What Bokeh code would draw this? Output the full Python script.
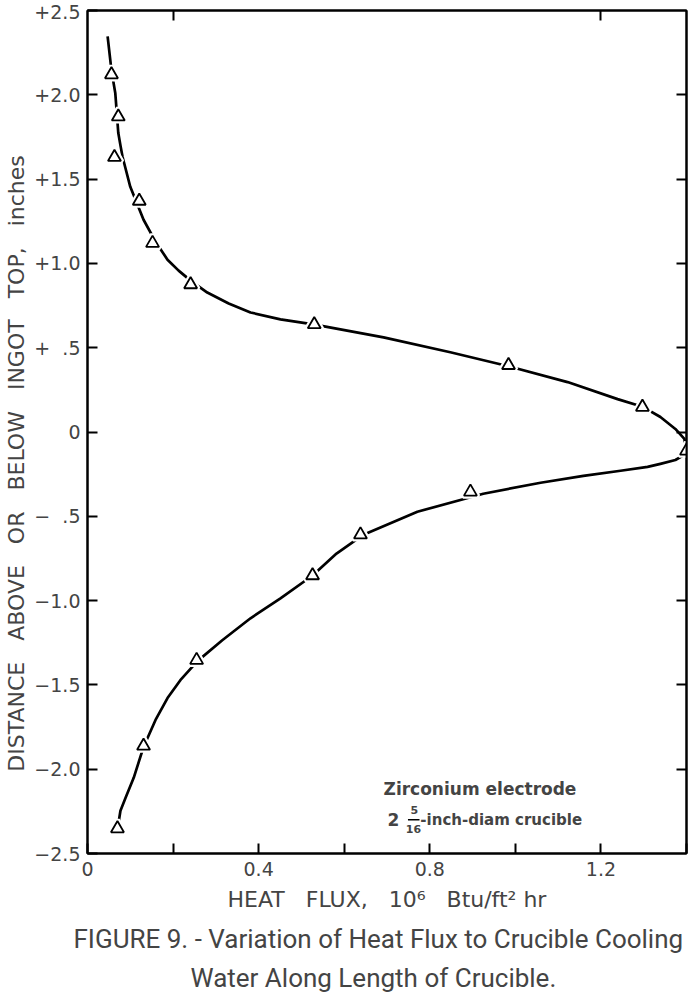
from bokeh.plotting import figure
from bokeh.models import Range1d, FixedTicker, LinearAxis, Title, Label
from bokeh.embed import file_html
from bokeh.resources import INLINE

# Measured data points (triangles): heat flux (10^6 Btu/ft2 hr) vs distance (inches)
heat_flux = [0.056, 0.072, 0.063, 0.121, 0.152, 0.241, 0.530, 0.984, 1.297, 1.400,
             0.895, 0.638, 0.526, 0.255, 0.131, 0.070]
distance = [2.12, 1.87, 1.63, 1.37, 1.12, 0.875, 0.638, 0.396, 0.148, -0.112,
            -0.355, -0.609, -0.851, -1.353, -1.862, -2.352]

# Faired curve (top end -> right tip -> bottom end)
curve_flux = [0.047, 0.056, 0.065, 0.072, 0.077, 0.082, 0.100, 0.131, 0.159, 0.187,
              0.213, 0.241, 0.280, 0.330, 0.381, 0.451, 0.528, 0.692, 0.848, 0.984,
              1.122, 1.239, 1.299, 1.339, 1.374, 1.395, 1.400,
              1.395, 1.374, 1.339, 1.309, 1.246, 1.159, 1.059, 0.925, 0.771, 0.645,
              0.582, 0.526, 0.451, 0.381, 0.315, 0.257, 0.217, 0.187, 0.159, 0.131,
              0.108, 0.089, 0.077, 0.070]
curve_dist = [2.346, 2.145, 2.009, 1.773, 1.700, 1.631, 1.454, 1.259, 1.129, 1.022,
              0.957, 0.898, 0.827, 0.762, 0.709, 0.668, 0.638, 0.561, 0.473, 0.390,
              0.296, 0.195, 0.148, 0.089, 0.018, -0.041, -0.112,
              -0.136, -0.166, -0.189, -0.207, -0.230, -0.260, -0.301, -0.366, -0.473, -0.609,
              -0.721, -0.851, -0.987, -1.105, -1.235, -1.359, -1.472, -1.578, -1.708, -1.868,
              -2.051, -2.169, -2.246, -2.358]

x_label_ticks = [0, 0.4, 0.8, 1.2]
x_label_text = ["0", "0.4", "0.8", "1.2"]
x_minor_ticks = [0.2, 0.6, 1.0, 1.4]
y_ticks = [2.5, 2.0, 1.5, 1.0, 0.5, 0, -0.5, -1.0, -1.5, -2.0, -2.5]
y_tick_text = ["+2.5", "+2.0", "+1.5", "+1.0", "+\u00a0\u00a0.5", "0",
               "\u2212\u00a0\u00a0.5", "\u22121.0", "\u22121.5", "\u22122.0", "\u22122.5"]

FONT = "DejaVu Sans"
NB = "\u00a0"

p = figure(width=699, height=992, output_backend="svg", toolbar_location=None,
           x_range=Range1d(0, 1.4), y_range=Range1d(-2.5, 2.5),
           min_border_left=87, min_border_right=13, min_border_top=10, min_border_bottom=136)
p.grid.visible = False
p.background_fill_color = "white"
p.border_fill_color = "white"
p.outline_line_color = "black"
p.outline_line_width = 2

# bottom axis
xa = p.xaxis[0]
xa.ticker = FixedTicker(ticks=x_label_ticks, minor_ticks=x_minor_ticks)
xa.major_label_overrides = dict(zip(x_label_ticks, x_label_text))
xa.axis_label = (NB * 3).join(["HEAT", "FLUX,", "10\u2076", "Btu/ft\u00b2 hr"])
xa.major_tick_in = 10
xa.major_tick_out = 0
xa.minor_tick_in = 10
xa.minor_tick_out = 0
xa.major_tick_line_width = 2
xa.minor_tick_line_width = 2
xa.axis_line_width = 2
xa.major_label_text_font = FONT
xa.major_label_text_font_size = "19px"
xa.major_label_standoff = 8
xa.axis_label_text_font = FONT
xa.axis_label_text_font_size = "22px"
xa.axis_label_text_font_style = "normal"
xa.axis_label_standoff = 8

ya = p.yaxis[0]
ya.ticker = FixedTicker(ticks=y_ticks)
ya.major_label_overrides = dict(zip(y_ticks, y_tick_text))
ya.axis_label = (NB * 3).join(["DISTANCE", "ABOVE", "OR", "BELOW", "INGOT", "TOP,", "inches"]) + NB * 9
ya.major_tick_in = 10
ya.major_tick_out = 0
ya.minor_tick_line_color = None
ya.major_tick_line_width = 2
ya.axis_line_width = 2
ya.major_label_text_font = FONT
ya.major_label_text_font_size = "19px"
ya.major_label_standoff = 7
ya.axis_label_text_font = FONT
ya.axis_label_text_font_size = "22px"
ya.axis_label_text_font_style = "normal"
ya.axis_label_standoff = 2

# right and top ticks (no labels)
ra = LinearAxis(ticker=FixedTicker(ticks=y_ticks[1:-1]))
ra.major_label_overrides = {t: "" for t in y_ticks[1:-1]}
ra.major_tick_in = 10
ra.major_tick_out = 0
ra.minor_tick_line_color = None
ra.major_tick_line_width = 2
ra.axis_line_width = 2
ra.major_label_standoff = 0
p.add_layout(ra, "right")

top_ticks = [0.2, 1.2]
ta = LinearAxis(ticker=FixedTicker(ticks=top_ticks))
ta.major_label_overrides = {t: "" for t in top_ticks}
ta.major_tick_in = 10
ta.major_tick_out = 0
ta.minor_tick_line_color = None
ta.major_tick_line_width = 2
ta.axis_line_width = 2
ta.major_label_standoff = 0
p.add_layout(ta, "above")

# curve and markers
p.line(curve_flux, curve_dist, line_color="black", line_width=2.7, line_join="round")
p.scatter(heat_flux, distance, marker="triangle", size=15, fill_color="white",
          line_color="white", line_width=5)
p.scatter(heat_flux, distance, marker="triangle", size=13, fill_color="white",
          line_color="black", line_width=1.8)

# annotation
ann_x = 0.692
p.add_layout(Label(x=ann_x, y=-2.116, text="Zirconium electrode", text_font=FONT,
                   text_font_size="17px", text_font_style="bold", text_baseline="middle"))
p.add_layout(Label(x=ann_x + 0.009, y=-2.299, text="2", text_font=FONT,
                   text_font_size="17px", text_font_style="bold", text_baseline="middle"))
p.add_layout(Label(x=ann_x + 0.072, y=-2.242, text="5", text_font=FONT,
                   text_font_size="11px", text_font_style="bold", text_baseline="middle",
                   text_align="center"))
p.add_layout(Label(x=ann_x + 0.070, y=-2.356, text="16", text_font=FONT,
                   text_font_size="11px", text_font_style="bold", text_baseline="middle",
                   text_align="center"))
p.segment(x0=[ann_x + 0.057], x1=[ann_x + 0.084], y0=[-2.300], y1=[-2.300],
          line_color="black", line_width=1.5)
p.add_layout(Label(x=ann_x + 0.086, y=-2.299, text="-inch-diam crucible", text_font=FONT,
                   text_font_size="15px", text_font_style="bold", text_baseline="middle"))

# caption
cap1 = "FIGURE 9. - Variation of Heat Flux to Crucible Cooling"
cap2 = "Water Along Length of Crucible."
t1 = Title(text=cap1, align="left", text_font="Roboto", text_font_size="26px",
           text_font_style="normal", standoff=14, offset=-14)
t2 = Title(text=cap2, align="left", text_font="Roboto", text_font_size="26px",
           text_font_style="normal", standoff=0, offset=103)
p.add_layout(t1, "below")
p.add_layout(t2, "below")

open("out.html", "w").write(file_html(p, INLINE))
